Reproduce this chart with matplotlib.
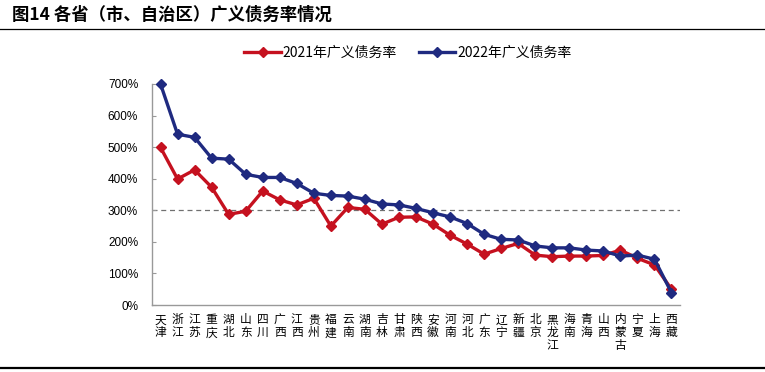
import matplotlib.pyplot as plt
import numpy as np

plt.rcParams['font.family'] = ['Liberation Sans', 'Noto Sans CJK SC', 'DejaVu Sans']

provinces = ['天津', '浙江', '江苏', '重庆', '湖北', '山东', '四川', '广西', '江西', '贵州',
             '福建', '云南', '湖南', '吉林', '甘肃', '陕西', '安徽', '河南', '河北', '广东',
             '辽宁', '新疆', '北京', '黑龙江', '海南', '青海', '山西', '内蒙古', '宁夏', '上海', '西藏']
rate_2021 = [499, 399, 428, 373, 287, 297, 361, 333, 317, 338, 250, 309, 303, 256, 278, 279,
             256, 221, 193, 161, 179, 195, 158, 153, 155, 155, 157, 174, 148, 127, 50]
rate_2022 = [700, 541, 531, 465, 462, 414, 404, 404, 385, 354, 347, 345, 335, 320, 317, 306,
             292, 279, 258, 224, 208, 206, 187, 181, 181, 174, 171, 155, 158, 145, 39]
threshold = 300

red = '#C5111F'
blue = '#1F2A80'

fig = plt.figure(figsize=(7.65, 3.72), dpi=100)
ax = fig.add_axes([152/765, 1 - 305/372, 528/765, 221/372])

x = np.arange(len(provinces))
ax.axhline(threshold, color='#707070', lw=0.9, ls=(0, (4, 3)), zorder=1)
ax.plot(x, rate_2021, color=red, lw=2.4, marker='D', ms=5.5, label='2021年广义债务率',
        zorder=3, clip_on=False)
ax.plot(x, rate_2022, color=blue, lw=2.4, marker='D', ms=5.5, label='2022年广义债务率',
        zorder=4, clip_on=False)

ax.set_xlim(-0.5, len(provinces) - 0.5)
ax.set_ylim(0, 700)
ax.set_yticks(range(0, 701, 100))
ax.set_yticklabels([f'{v}%' for v in range(0, 701, 100)], fontsize=8.5)
ax.set_xticks(x)
ax.set_xticklabels(['\n'.join(p) for p in provinces], family=['Noto Sans CJK SC'],
                   fontsize=8.5, linespacing=1.0, va='top')
ax.tick_params(axis='y', direction='in', length=3, color='#999999', pad=10)
ax.tick_params(axis='x', length=0, pad=6)
for s in ['top', 'right']:
    ax.spines[s].set_visible(False)
for s in ['left', 'bottom']:
    ax.spines[s].set_color('#999999')
    ax.spines[s].set_linewidth(1.0)

leg = ax.legend(loc='center', bbox_to_anchor=(408/765, 1 - 53/372), bbox_transform=fig.transFigure,
                ncol=2, frameon=False, handlelength=2.6, columnspacing=1.6,
                handletextpad=0.15, prop={'family': ['Noto Sans CJK SC'], 'size': 10})

fig.text(12/765, 1 - 15/372, '图14 各省（市、自治区）广义债务率情况', fontsize=12.5, fontweight='bold',
         family=['Noto Sans CJK SC'], va='center', ha='left')
fig.add_artist(plt.Line2D([0, 1], [1 - 29/372, 1 - 29/372], transform=fig.transFigure, color='black', lw=0.9))
fig.add_artist(plt.Line2D([0, 1], [1 - 368/372, 1 - 368/372], transform=fig.transFigure, color='black', lw=1.6))

fig.savefig('out.png', dpi=100)
